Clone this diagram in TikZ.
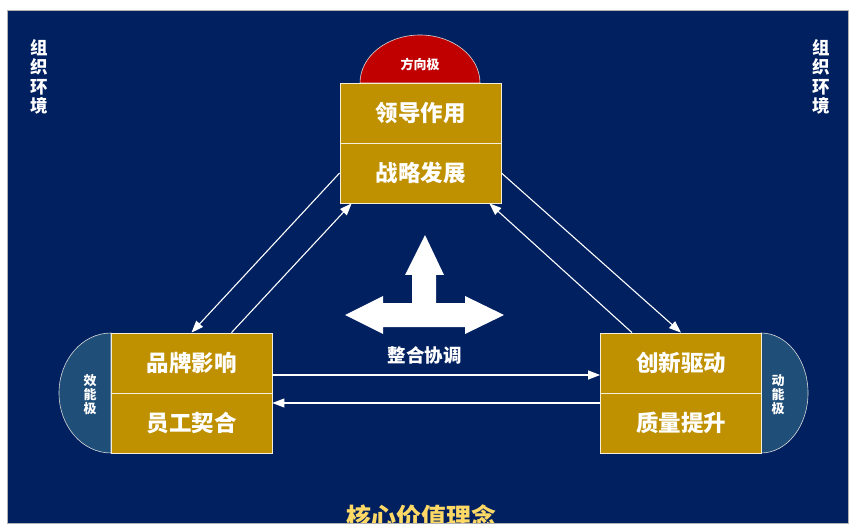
\documentclass[tikz,border=0pt]{standalone}
\usepackage{fontspec}
\setmainfont{Noto Sans CJK SC}
\usetikzlibrary{arrows.meta}
\definecolor{navy}{HTML}{002060}
\definecolor{gold}{HTML}{BF9000}
\definecolor{polered}{HTML}{C00000}
\definecolor{poleblue}{HTML}{1F4E79}
\definecolor{titleyellow}{HTML}{FFD966}
\begin{document}
\begin{tikzpicture}[x=1pt,y=1pt,
  goldbox/.style={draw=white!85!gold, line width=0.8pt, fill=gold, minimum width=161pt, minimum height=60pt, inner sep=0pt, text=white, font=\bfseries\fontsize{22.5}{25}\selectfont},
  polelabel/.style={text=white, font=\bfseries\fontsize{13}{14}\selectfont, align=center, inner sep=0pt},
  envlabel/.style={text=white, font=\bfseries\fontsize{17.5}{19.5}\selectfont, align=center, inner sep=0pt},
  conn/.style={draw=white, line width=1.1pt, -{Triangle[length=12pt,width=9pt]}},
  polerim/.style={draw=white!70!gray, line width=0.6pt}
]
\useasboundingbox (0,0) rectangle (850,-526);
\fill[white] (0,0) rectangle (850,-526);
\fill[navy] (7,-10) rectangle (848,-523);
\draw[gray!60, line width=0.8pt] (7,-10) rectangle (848,-523);

% poles
\filldraw[fill=polered, polerim] (360,-83) arc[start angle=180, end angle=0, x radius=60, y radius=48] -- cycle;
\filldraw[fill=poleblue, polerim] (111,-333) arc[start angle=90, end angle=270, x radius=52, y radius=60] -- cycle;
\filldraw[fill=poleblue, polerim] (761,-333) arc[start angle=90, end angle=-90, x radius=47, y radius=60] -- cycle;

\node[polelabel] (dir) at (420,-64) {方向极};
\node[polelabel] (eff) at (90,-395) {效\\能\\极};
\node[polelabel] (dyn) at (778,-395) {动\\能\\极};

% boxes
\node[goldbox] (lead)  at (420.5,-113) {领导作用};
\node[goldbox] (strat) at (420.5,-173) {战略发展};
\node[goldbox] (brand) at (191.5,-363) {品牌影响};
\node[goldbox] (staff) at (191.5,-423) {员工契合};
\node[goldbox] (innov) at (681,-363) {创新驱动};
\node[goldbox] (qual)  at (681,-423) {质量提升};

% environment labels
\node[envlabel] (envl) at (39,-77) {组\\织\\环\\境};
\node[envlabel] (envr) at (821,-77) {组\\织\\环\\境};

% connectors
\draw[conn] (strat.west) -- (brand.north);
\draw[conn] ([xshift=40pt]brand.north) -- ([xshift=12pt]strat.south west);
\draw[conn] (strat.east) -- (innov.north);
\draw[conn] ([xshift=-49pt]innov.north) -- ([xshift=-12pt]strat.south east);
\draw[conn] ([yshift=-12pt]brand.east) -- ([yshift=-12pt]innov.west);
\draw[conn] ([yshift=20pt]qual.west) -- ([yshift=20pt]staff.east);

% big three-way arrow
\fill[white] (425,-235) -- (444,-275) -- (436,-275) -- (436,-303) -- (465,-303) -- (465,-296) -- (504,-315) -- (465,-334) -- (465,-327) -- (383,-327) -- (383,-334) -- (345,-315) -- (383,-296) -- (383,-303) -- (412,-303) -- (412,-275) -- (405,-275) -- cycle;
\node[text=white, font=\bfseries\fontsize{18.5}{20}\selectfont, inner sep=0pt] (integ) at (424.5,-355) {整合协调};

% title
\begin{scope}
\clip (7,-10) rectangle (848,-523);
\node[text=titleyellow, font=\bfseries\fontsize{25}{28}\selectfont, inner sep=0pt] (core) at (421,-517) {核心价值理念};
\end{scope}
\draw[gray!60, line width=0.8pt] (7,-523) -- (848,-523);
\end{tikzpicture}
\end{document}
